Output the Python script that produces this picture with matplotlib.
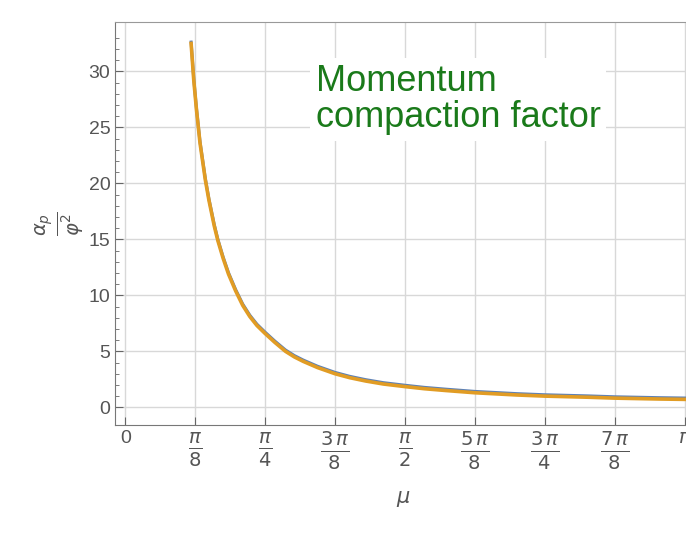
import numpy as np
from matplotlib import pyplot as plt

# curve
mu = [0.37, 0.385, 0.40, 0.42, 0.45, 0.47, 0.50, 0.52, 0.55, 0.58, 0.62, 0.66, 0.70,
      0.74, 0.785, 0.84, 0.90, 0.95, 1.00, 1.08, 1.178, 1.26, 1.35, 1.45, 1.571, 1.68,
      1.80, 1.963, 2.20, 2.356, 2.60, 2.749, 3.00, 3.18]
alpha = [32.5, 29.2, 26.6, 23.6, 20.3, 18.5, 16.2, 14.9, 13.3, 11.9, 10.4, 9.1, 8.1,
         7.3, 6.6, 5.8, 5.0, 4.5, 4.1, 3.55, 3.0, 2.65, 2.35, 2.08, 1.85, 1.66,
         1.5, 1.3, 1.1, 1.0, 0.9, 0.82, 0.74, 0.70]

xticks = [0, np.pi/8, np.pi/4, 3*np.pi/8, np.pi/2, 5*np.pi/8, 3*np.pi/4, 7*np.pi/8, np.pi]
xlabels = ["0", r"$\frac{\pi}{8}$", r"$\frac{\pi}{4}$", r"$\frac{3\,\pi}{8}$", r"$\frac{\pi}{2}$",
           r"$\frac{5\,\pi}{8}$", r"$\frac{3\,\pi}{4}$", r"$\frac{7\,\pi}{8}$", r"$\pi$"]
yticks = [0, 5, 10, 15, 20, 25, 30]

plt.rcParams['font.family'] = ['Liberation Sans', 'DejaVu Sans']
plt.rcParams['mathtext.fontset'] = 'dejavusans'
fig = plt.figure(figsize=(6.86, 5.41), dpi=100)
ax = fig.add_axes([0.168, 0.214, 0.84, 0.745])

ax.plot(mu, np.array(alpha) + 0.12, color='#5e81b5', lw=2.2)
ax.plot(mu, alpha, color='#e19c24', lw=2.6)

ax.set_xlim(-0.056, 3.18)
ax.set_ylim(-1.6, 34.4)
ax.set_xticks(xticks)
ax.set_xticklabels(xlabels, fontsize=20, color='#555555')
for lab in (ax.get_xticklabels()[0], ax.get_xticklabels()[-1]):
    lab.set_fontsize(14)
ax.set_yticks(yticks)
ax.set_yticklabels([str(v) for v in yticks], fontsize=14, color='#555555')
ax.set_yticks(np.arange(0, 34, 1), minor=True)
ax.tick_params(axis='y', which='minor', length=3, direction='in', color='#666666')
ax.tick_params(axis='both', which='major', length=6, direction='in', color='#666666')
ax.grid(True, color='#d8d8d8', lw=1)
for s in ['left', 'bottom']:
    ax.spines[s].set_color('#777777')
ax.spines['top'].set_color('#999999')
ax.spines['right'].set_visible(False)

ax.set_xlabel(r"$\mu$", fontsize=15, color='#555555', labelpad=12)
ax.set_ylabel(r"$\frac{\alpha_p}{\varphi^2}$", fontsize=20, color='#555555', rotation=90, labelpad=2)

fig.text(0.46, 0.765, "Momentum\ncompaction factor", fontsize=26, color='#1a7a1a',
         linespacing=1.05, bbox=dict(facecolor='white', edgecolor='none', pad=4))

fig.savefig("out.png")
